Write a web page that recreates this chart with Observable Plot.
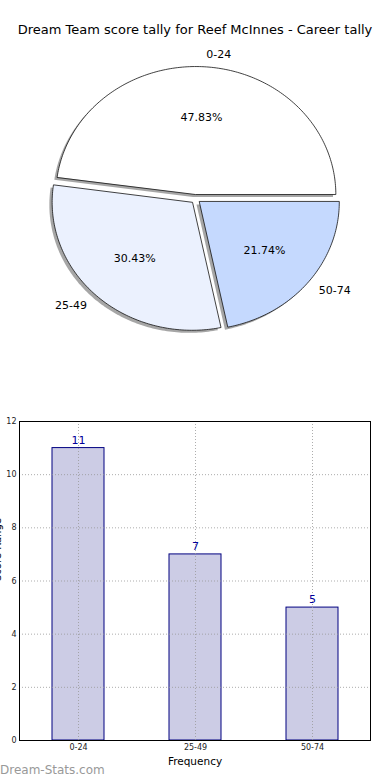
<!DOCTYPE html>
<html>
<head>
<meta charset="utf-8">
<script src="https://cdn.jsdelivr.net/npm/d3@7"></script>
<script src="https://cdn.jsdelivr.net/npm/@observablehq/plot@0.6"></script>
<style>
  html, body { margin: 0; padding: 0; background: #fff; }
  body { width: 390px; height: 780px; position: relative; overflow: hidden; font-family: "DejaVu Sans", sans-serif; }
  #title { height: 44px; box-sizing: border-box; padding-top: 22px; text-align: center; font-size: 13px; line-height: 16px; color: #000; }
  #pie svg, #bars svg { display: block; }
  #footer { position: absolute; left: 0; top: 763px; font-size: 12px; color: #999; }
</style>
</head>
<body>
<div id="title"></div>
<div id="pie"></div>
<div id="bars"></div>
<div id="footer"></div>
<script>
const categories = ["0-24", "25-49", "50-74"];
const counts = [11, 7, 5];
const sliceColors = ["#ffffff", "#ebf1fe", "#c5d9fe"];
const yTicks = [0, 2, 4, 6, 8, 10, 12];
const titleText = "Dream Team score tally for Reef McInnes - Career tally";
const xLabel = "Frequency";
const yLabel = "Score Range";
const footerText = "Dream-Stats.com";

document.getElementById("title").textContent = titleText;
document.getElementById("footer").textContent = footerText;

const total = d3.sum(counts);
const explode = 0.035;
const shadowOffset = -0.02;

// build wedges (counter-clockwise from 0°, like matplotlib)
let start = 0;
const wedges = categories.map((c, i) => {
  const frac = counts[i] / total;
  const a0 = start, a1 = start + frac * 2 * Math.PI;
  start = a1;
  const mid = (a0 + a1) / 2;
  const cx = explode * Math.cos(mid), cy = explode * Math.sin(mid);
  return {slice: c, a0, a1, mid, cx, cy, pct: (frac * 100).toFixed(2) + "%"};
});
const pts = [];
for (const w of wedges) {
  pts.push({slice: w.slice, x: w.cx, y: w.cy});
  const n = Math.ceil((w.a1 - w.a0) / (Math.PI / 180));
  for (let k = 0; k <= n; k++) {
    const a = w.a0 + (w.a1 - w.a0) * k / n;
    pts.push({slice: w.slice, x: w.cx + Math.cos(a), y: w.cy + Math.sin(a)});
  }
}
const shadowPts = pts.map(p => ({slice: p.slice, x: p.x + shadowOffset, y: p.y + shadowOffset}));
const pctLabels = wedges.map(w => ({x: w.cx + 0.6 * Math.cos(w.mid), y: w.cy + 0.6 * Math.sin(w.mid), text: w.pct}));
const catLabels = wedges.map(w => ({x: w.cx + 1.1 * Math.cos(w.mid), y: w.cy + 1.1 * Math.sin(w.mid), text: w.slice, right: Math.cos(w.mid) > 0}));

const pieH = 356, rx = 140, ry = 128, cyPx = 154.5;
const pie = Plot.plot({
  width: 390, height: pieH,
  margin: 0,
  style: {fontFamily: "DejaVu Sans", fontSize: "11px", background: "#fff"},
  x: {domain: [-195 / rx, 195 / rx], range: [0, 390], axis: null},
  y: {domain: [-(pieH - cyPx) / ry, cyPx / ry], range: [pieH, 0], axis: null},
  color: {domain: categories, range: sliceColors},
  marks: [
    Plot.line(shadowPts, {x: "x", y: "y", z: "slice", fill: "#4d4d4d", fillOpacity: 0.5, stroke: "none", curve: "linear-closed"}),
    Plot.line(pts, {x: "x", y: "y", z: "slice", fill: "slice", stroke: "#111", strokeWidth: 0.8, curve: "linear-closed"}),
    Plot.text(pctLabels, {x: "x", y: "y", text: "text", fill: "#000", fontSize: 11}),
    Plot.text(catLabels.filter(d => d.right), {x: "x", y: "y", text: "text", textAnchor: "start", fill: "#000", fontSize: 11}),
    Plot.text(catLabels.filter(d => !d.right), {x: "x", y: "y", text: "text", textAnchor: "end", fill: "#000", fontSize: 11})
  ]
});
document.getElementById("pie").append(pie);

const barData = categories.map((c, i) => ({cat: c, n: counts[i]}));
const bars = Plot.plot({
  width: 390, height: 380,
  marginTop: 21, marginBottom: 40, marginLeft: 19, marginRight: 20,
  style: {fontFamily: "DejaVu Sans", fontSize: "8px", background: "#fff", color: "#222"},
  x: {domain: categories, paddingInner: 0.556, paddingOuter: 0.278, axis: null},
  y: {domain: [0, 12], axis: null},
  marks: [
    Plot.barY(barData, {x: "cat", y: "n", fill: "#ccccE5", stroke: "#000080", strokeWidth: 1}),
    Plot.gridY(yTicks, {stroke: "#999", strokeOpacity: 0.8, strokeDasharray: "1,2"}),
    Plot.gridX(categories, {stroke: "#999", strokeOpacity: 0.8, strokeDasharray: "1,2"}),
    Plot.frame({stroke: "#000", strokeWidth: 1}),
    Plot.text(barData, {x: "cat", y: "n", text: d => String(d.n), dy: -8, fill: "#000099", fontSize: 11}),
    Plot.axisY(yTicks, {tickSize: 0, tickPadding: 3, fontSize: 8, label: null}),
    Plot.axisX(categories, {tickSize: 0, tickPadding: 4, fontSize: 8, label: null}),
    Plot.text([xLabel], {frameAnchor: "bottom", dy: 21, lineAnchor: "middle", text: d => d, fontSize: 10.5, fill: "#000"}),
    Plot.text([yLabel], {frameAnchor: "left", dx: -22, rotate: -90, text: d => d, fontSize: 10, fill: "#000"})
  ]
});
document.getElementById("bars").append(bars);
</script>
</body>
</html>
